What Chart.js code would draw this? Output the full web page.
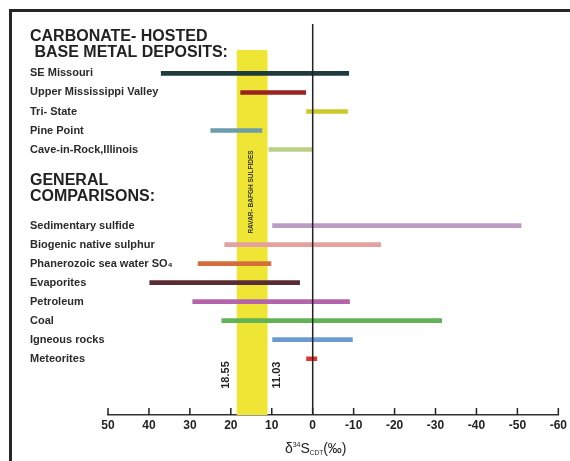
<!DOCTYPE html>
<html>
<head>
<meta charset="utf-8">
<script src="https://cdn.jsdelivr.net/npm/chart.js@4.4.1/dist/chart.umd.min.js"></script>
<style>
body { margin: 0; background: #fff; }
canvas { display: block; }
</style>
</head>
<body>
<canvas id="sulfurChart" width="570" height="461"></canvas>
<script>
// rows of the diagram, blank entries leave room for the second heading
const rows = ['SE Missouri', 'Upper Mississippi Valley', 'Tri- State', 'Pine Point', 'Cave-in-Rock,Illinois',
    '', '', '',
    'Sedimentary sulfide', 'Biogenic native sulphur', 'Phanerozoic sea water SO₄', 'Evaporites',
    'Petroleum', 'Coal', 'Igneous rocks', 'Meteorites'];
// d34S range of each row (per mil), start = heavy end
const rangeStart = [37, 17.6, 1.5, 24.9, 10.7, null, null, null, 9.8, 21.5, 28, 39.8, 29.3, 22.2, 9.8, 1.5];
const rangeEnd = [-8.8, 1.7, -8.5, 12.4, 0, null, null, null, -50.9, -16.6, 10.2, 3.2, -9, -31.5, -9.7, -1];
const barColors = ['#1f3b3d', '#9a2222', '#cdc92a', '#6a9ca9', '#bccf86', null, null, null,
    '#bb9cc3', '#e3a2a0', '#d46f3c', '#5b2b33', '#b464ab', '#62b257', '#6b9bd0', '#e2332f'];
const xTicks = [50, 40, 30, 20, 10, 0, -10, -20, -30, -40, -50, -60];
// Ravar-Bafgh sulfides band
const ravarBafgh = [18.55, 11.03];
const headings = [['CARBONATE- HOSTED', ' BASE METAL DEPOSITS:'], ['GENERAL', 'COMPARISONS:']];

const FONT = "'Liberation Sans', Arial, sans-serif";
Chart.defaults.font.family = FONT;

const bars = [];
rows.forEach((name, i) => {
    if (name) bars.push({ x: [rangeStart[i], rangeEnd[i]], y: i });
});

const sketch = {
    id: 'sketch',
    beforeDraw(chart) {
        const ctx = chart.ctx;
        ctx.save();
        ctx.fillStyle = '#fff';
        ctx.fillRect(0, 0, chart.width, chart.height);
        ctx.fillStyle = '#262626';
        ctx.fillRect(9, 9, chart.width - 9, 3);
        ctx.fillRect(9, 9, 3, chart.height - 9);
        ctx.restore();
    },
    beforeDatasetsDraw(chart) {
        const { ctx, chartArea, scales: { x } } = chart;
        const left = x.getPixelForValue(ravarBafgh[0]);
        const right = x.getPixelForValue(ravarBafgh[1]);
        ctx.save();
        ctx.fillStyle = '#efe534';
        ctx.fillRect(left, 50, right - left, chartArea.bottom - 50);
        ctx.restore();
    },
    afterDraw(chart) {
        const { ctx, chartArea, scales: { x, y } } = chart;
        ctx.save();

        // zero line
        const x0 = x.getPixelForValue(0);
        ctx.strokeStyle = '#222';
        ctx.lineWidth = 1.5;
        ctx.beginPath();
        ctx.moveTo(x0, chartArea.top);
        ctx.lineTo(x0, chartArea.bottom);
        ctx.stroke();

        // tick marks pointing up
        ctx.lineWidth = 1.5;
        xTicks.forEach(v => {
            const px = x.getPixelForValue(v);
            ctx.beginPath();
            ctx.moveTo(px, chartArea.bottom);
            ctx.lineTo(px, chartArea.bottom - 7);
            ctx.stroke();
        });

        // row labels
        ctx.fillStyle = '#2b2b2b';
        ctx.font = 'bold 11px ' + FONT;
        ctx.textAlign = 'left';
        ctx.textBaseline = 'middle';
        rows.forEach((name, i) => {
            if (name) ctx.fillText(name, 30, y.getPixelForValue(i));
        });

        // headings
        ctx.fillStyle = '#222';
        ctx.font = 'bold 16px ' + FONT;
        ctx.textBaseline = 'alphabetic';
        ctx.fillText(headings[0][0], 30, 41);
        ctx.fillText(headings[0][1], 30, 57);
        ctx.fillText(headings[1][0], 30, 185);
        ctx.fillText(headings[1][1], 30, 201);

        // band texts
        const bl = x.getPixelForValue(ravarBafgh[0]);
        const br = x.getPixelForValue(ravarBafgh[1]);
        ctx.fillStyle = '#333';
        ctx.textAlign = 'center';
        ctx.textBaseline = 'middle';
        ctx.save();
        ctx.translate((bl + br) / 2 - 1, 192);
        ctx.rotate(-Math.PI / 2);
        ctx.font = 'bold 6.5px ' + FONT;
        ctx.fillText('RAVAR- BAFGH SULFIDES', 0, 0);
        ctx.restore();

        ctx.font = 'bold 11px ' + FONT;
        ctx.fillStyle = '#222';
        [[ravarBafgh[0], bl - 11], [ravarBafgh[1], br + 9]].forEach(([v, px]) => {
            ctx.save();
            ctx.translate(px, 375);
            ctx.rotate(-Math.PI / 2);
            ctx.fillText(v.toFixed(2), 0, 0);
            ctx.restore();
        });

        // axis title d34S CDT (per mil)
        const parts = [
            { t: 'δ', f: '14px', dy: 0 },
            { t: '34', f: '7px', dy: -6 },
            { t: 'S', f: '14px', dy: 0 },
            { t: 'CDT', f: '6.5px', dy: 2 },
            { t: '(‰)', f: '14px', dy: 0 }
        ];
        ctx.textAlign = 'left';
        ctx.textBaseline = 'alphabetic';
        let total = 0;
        parts.forEach(p => {
            ctx.font = p.f + ' ' + FONT;
            p.w = ctx.measureText(p.t).width;
            total += p.w;
        });
        let cx = x0 + 3 - total / 2;
        parts.forEach(p => {
            ctx.font = p.f + ' ' + FONT;
            ctx.fillText(p.t, cx, 453 + p.dy);
            cx += p.w;
        });
        ctx.restore();
    }
};

new Chart(document.getElementById('sulfurChart'), {
    type: 'bar',
    data: {
        datasets: [{
            data: bars,
            backgroundColor: bars.map(b => barColors[b.y]),
            barThickness: 4,
            borderWidth: 0,
            borderSkipped: false
        }]
    },
    options: {
        indexAxis: 'y',
        responsive: false,
        animation: false,
        layout: { padding: { left: 108, right: 11, top: 24, bottom: 25.6 } },
        plugins: { legend: { display: false }, tooltip: { enabled: false } },
        scales: {
            x: {
                type: 'linear',
                reverse: true,
                min: -60,
                max: 50,
                afterBuildTicks: axis => { axis.ticks = xTicks.map(v => ({ value: v })); },
                grid: { display: true, drawOnChartArea: false, drawTicks: false, color: 'rgba(0,0,0,0)' },
                border: { display: true, color: '#333', width: 1.5 },
                ticks: { color: '#222', padding: 3, font: { size: 12, weight: 'bold' } }
            },
            y: {
                type: 'linear',
                reverse: true,
                offset: false,
                min: -2.6,
                max: 17.96,
                display: false
            }
        }
    },
    plugins: [sketch]
});
</script>
</body>
</html>
